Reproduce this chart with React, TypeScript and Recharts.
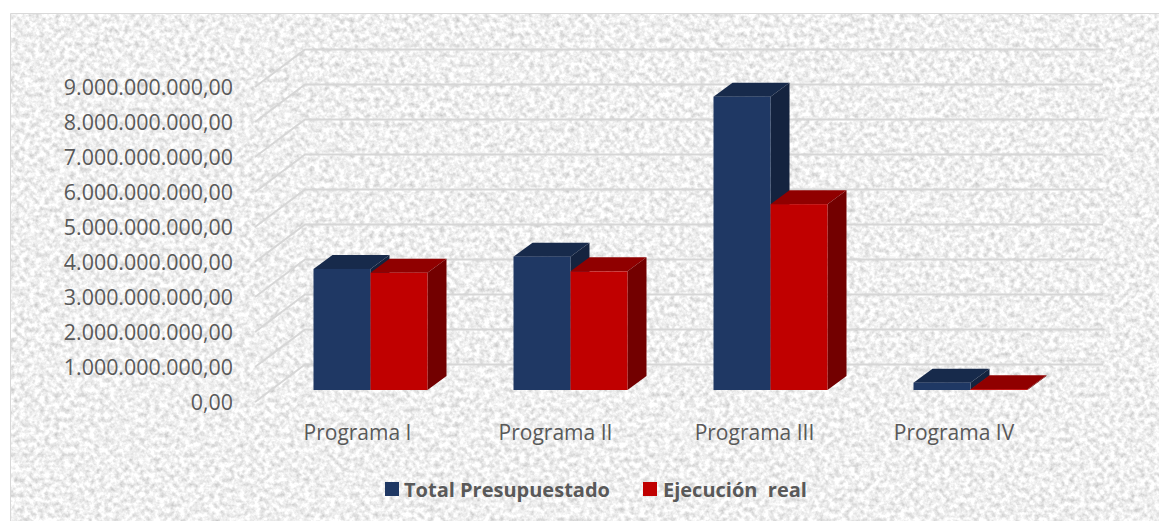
import React from "react";
import { BarChart, Bar, XAxis, YAxis, CartesianGrid, Legend } from "recharts";

const categories = ["Programa I", "Programa II", "Programa III", "Programa IV"];
const totalPresupuestado = [3460000000, 3810000000, 8380000000, 210000000];
const ejecucionReal = [3350000000, 3390000000, 5310000000, 25000000];
const yTicks = [0, 1e9, 2e9, 3e9, 4e9, 5e9, 6e9, 7e9, 8e9, 9e9];
const seriesNames = ["Total Presupuestado", "Ejecución  real"];

const data = categories.map((name, i) => ({
  name,
  total: totalPresupuestado[i],
  real: ejecucionReal[i],
}));

const FONT = "'Open Sans', 'Noto Sans', sans-serif";
const TEXT = "#595959";
const DX = 19;
const DY = 14;
const xLabelShift = [-13, -15, -16, -16.5];

const fmt = (v: number) =>
  v.toLocaleString("de-DE", { minimumFractionDigits: 2, maximumFractionDigits: 2 });

const box = (front: string, top: string, side: string) => (p: any) => {
  const { x, y, width: w, height: h } = p;
  return (
    <g>
      <polygon points={`${x},${y} ${x + DX},${y - DY} ${x + w + DX},${y - DY} ${x + w},${y}`} fill={top} />
      <polygon points={`${x + w},${y} ${x + w + DX},${y - DY} ${x + w + DX},${y + h - DY} ${x + w},${y + h}`} fill={side} />
      <rect x={x} y={y} width={w} height={h} fill={front} />
    </g>
  );
};

const YTick = (p: any) => (
  <text x={233} y={p.y + 19.5} textAnchor="end" fontFamily={FONT} fontSize={21.4} fill={TEXT}>
    {fmt(p.payload.value)}
  </text>
);

const XTick = (p: any) => (
  <text x={p.x + xLabelShift[p.index]} y={440} textAnchor="middle" fontFamily={FONT} fontSize={21} fill={TEXT}>
    {p.payload.value}
  </text>
);

const gridLine = (p: any) => {
  const y = p.y1;
  return (
    <polyline
      key={y}
      points={`255,${y + 12} 305,${y - 25.5} 1103,${y - 25.5}`}
      fill="none"
      stroke="#d6d6d6"
      strokeWidth={2}
    />
  );
};

const LegendContent = (p: any) => (
  <div style={{ position: "relative", height: 30, fontFamily: FONT, fontWeight: 700, fontSize: 20, color: TEXT, whiteSpace: "pre" }}>
    {(p.payload || []).map((e: any, i: number) => (
      <div key={i} style={{ position: "absolute", left: i === 0 ? 385 : 643, top: 0, display: "flex", alignItems: "center", height: 30 }}>
        <span style={{ display: "inline-block", width: 14, height: 14, background: e.color, marginRight: i === 0 ? 5 : 6 }} />
        <span>{e.value}</span>
      </div>
    ))}
  </div>
);

export default function App() {
  return (
    <div style={{ position: "absolute", left: 0, top: 0, width: 1159, height: 521, background: "#fff", overflow: "hidden" }}>
      <svg width={1149} height={508} style={{ position: "absolute", left: 10, top: 13 }}>
        <defs>
          <filter id="granite" x="0" y="0" width="100%" height="100%" colorInterpolationFilters="sRGB">
            <feTurbulence type="fractalNoise" baseFrequency="0.2" numOctaves={3} seed={7} />
            <feColorMatrix type="matrix" values="0.38 0 0 0 0.75  0.38 0 0 0 0.75  0.38 0 0 0 0.75  0 0 0 0 1" />
            <feGaussianBlur stdDeviation="0.7" />
          </filter>
        </defs>
        <rect width={1149} height={508} filter="url(#granite)" />
        <path d="M0.5,508 V0.5 H1149" fill="none" stroke="#d9d9d9" />
      </svg>
      <BarChart
        width={1159}
        height={521}
        data={data}
        barSize={57}
        barGap={0}
        margin={{ top: 75, right: 88.5, bottom: 0, left: 0 }}
        style={{ position: "absolute", left: 0, top: 0 }}
      >
        <CartesianGrid horizontal={gridLine} vertical={false} />
        <YAxis width={270.5} domain={[0, 9e9]} ticks={yTicks} interval={0} axisLine={false} tickLine={false} tick={YTick} />
        <XAxis dataKey="name" height={131} axisLine={false} tickLine={false} tick={XTick} interval={0} />
        <Legend
          layout="horizontal"
          verticalAlign="middle"
          align="center"
          itemSorter={null}
          content={LegendContent}
          wrapperStyle={{ left: 0, top: 474, width: 1159 }}
        />
        <Bar dataKey="total" name={seriesNames[0]} fill="#1F3864" shape={box("#1F3864", "#172A4B", "#14233F")} isAnimationActive={false} />
        <Bar dataKey="real" name={seriesNames[1]} fill="#C00000" shape={box("#C00000", "#900000", "#730000")} isAnimationActive={false} />
      </BarChart>
    </div>
  );
}
